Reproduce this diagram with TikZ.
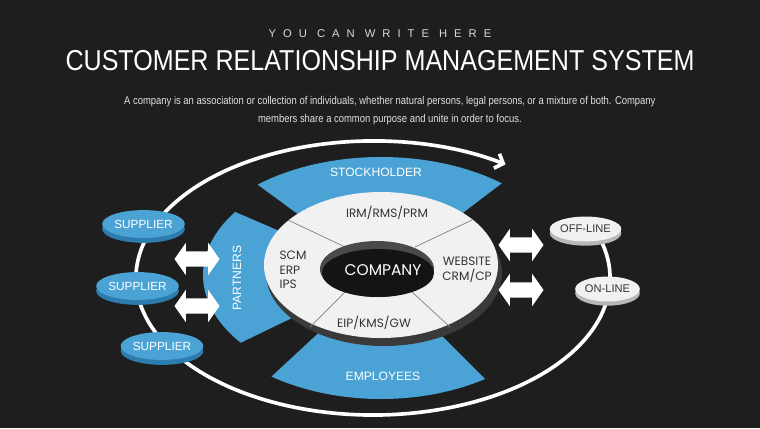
\documentclass[tikz,border=0pt]{standalone}
\usepackage{fontspec}
\setmainfont{Liberation Sans}
\newfontfamily\narrowfont[FakeStretch=0.87]{Liberation Sans}
\newfontfamily\parafont[FakeStretch=0.84]{Liberation Sans}
\newfontfamily\spacedfont[LetterSpace=62]{Liberation Sans}
\newfontfamily\geofont{Poppins}
\usetikzlibrary{positioning,shapes.geometric,shapes.arrows,shadows,arrows.meta}
\definecolor{bg}{HTML}{1E1E1E}
\definecolor{crmblue}{HTML}{4AA3D4}
\definecolor{rimblue}{HTML}{2C7DAE}
\definecolor{ringwhite}{HTML}{F1F1F1}
\definecolor{ringshade}{HTML}{3A3A3A}
\definecolor{holegray}{HTML}{4A4A4A}
\definecolor{rimgray}{HTML}{B8B8B8}
\definecolor{darktext}{HTML}{333333}

\begin{document}
\begin{tikzpicture}[x=0.025cm, y=0.025cm, node distance=4pt,
    supplier/.style={ellipse, fill=crmblue, minimum width=44.6pt, minimum height=19.8pt, inner sep=0pt,
      text=white, font=\fontsize{8.4}{10}\selectfont,
      general shadow={fill=rimblue, shadow yshift=-3.5pt}},
    channel/.style={ellipse, fill=ringwhite, minimum width=46pt, minimum height=17.7pt, inner sep=0pt,
      text=darktext, font=\fontsize{7.9}{10}\selectfont,
      general shadow={fill=rimgray, shadow yshift=-3pt}},
    twoway/.style={double arrow, fill=white, inner xsep=0pt, inner ysep=5.3pt, minimum height=32pt, minimum width=22.5pt,
      double arrow head extend=6pt, double arrow tip angle=110},
    sector/.style={fill=crmblue},
    bandtext/.style={text=white, font=\fontsize{8.6}{10}\selectfont},
    ringtext/.style={text=darktext, font=\geofont\fontsize{8.6}{10.4}\selectfont},
    divider/.style={draw=gray, line width=0.5pt}]
    \useasboundingbox (0,0) rectangle (760,-428);
    \fill[bg] (0,0) rectangle (760,-428);

    % heading
    \node[text=white, font=\narrowfont\fontsize{20.5}{24}\selectfont] (title) at (380,-61) {CUSTOMER RELATIONSHIP MANAGEMENT SYSTEM};
    \node[above=2pt of title, text=white!85!black, font=\spacedfont\fontsize{8}{10}\selectfont] (tagline) {YOU CAN WRITE HERE};
    \node[below=11pt of title, xshift=7pt, align=center, text=white!88!black, font=\parafont\fontsize{8}{12.7}\selectfont] (intro)
        {A company is an association or collection of individuals, whether natural persons, legal persons, or a mixture of both. Company\\
         members share a common purpose and unite in order to focus.};

    % outer cycle
    \draw[white, line width=2.6pt, -{Straight Barb[length=5pt 0 0, width=11pt 0 0]}]
        (373,-278) ++(20:237 and 137) arc[start angle=20, end angle=-304, x radius=237, y radius=137];

    % blue bands
    \fill[sector] (381,-275) -- ++(51:192 and 118) arc[start angle=51, end angle=130, x radius=192, y radius=118] -- cycle;
    \fill[sector] (381,-275) -- ++(235:191 and 124) arc[start angle=235, end angle=303, x radius=191, y radius=124] -- cycle;
    \fill[sector] (381,-275) -- ++(145:178 and 110) arc[start angle=145, end angle=218, x radius=178, y radius=110] -- cycle;

    % ring
    \fill[ringshade] (384,-273) ellipse [x radius=118, y radius=73];
    \fill[ringwhite] (381,-265) ellipse [x radius=117, y radius=73];
    \draw[divider] (288,-220) -- (345,-247);
    \draw[divider] (472,-220) -- (415,-247);
    \draw[divider] (310,-327) -- (345,-292);
    \draw[divider] (450,-327) -- (412,-292);
    \fill[holegray] (377,-269) ellipse [x radius=57, y radius=28];
    \fill[black!92] (378,-273) ellipse [x radius=56, y radius=24];

    \node[bandtext] (stock) at (376,-172) {STOCKHOLDER};
    \node[bandtext] (staff) at (383,-376) {EMPLOYEES};
    \node[bandtext, rotate=90] (partners) at (237,-278) {PARTNERS};

    \node[ringtext] (irm) at (387,-213) {IRM/RMS/PRM};
    \node[ringtext, align=left] (scm) at (293,-270) {SCM\\ERP\\IPS};
    \node[ringtext, align=center] (web) at (467,-270) {WEBSITE\\CRM/CP};
    \node[ringtext] (eip) at (374,-323) {EIP/KMS/GW};
    \node[text=white, font=\geofont\fontsize{11}{13}\selectfont] (company) at (383,-270) {COMPANY};

    % suppliers and channels
    \node[supplier] (sup1) at (143.5,-224) {SUPPLIER};
    \node[supplier] (sup2) at (137.5,-286) {SUPPLIER};
    \node[supplier] (sup3) at (162,-346) {SUPPLIER};
    \node[channel] (offline) at (585.5,-229) {OFF-LINE};
    \node[channel] (online) at (607.5,-289) {ON-LINE};

    \node[twoway] (in1) at (197,-259) {};
    \node[twoway] (in2) at (197,-306) {};
    \node[twoway] (out1) at (521,-245) {};
    \node[twoway] (out2) at (521,-290) {};
\end{tikzpicture}
\end{document}
